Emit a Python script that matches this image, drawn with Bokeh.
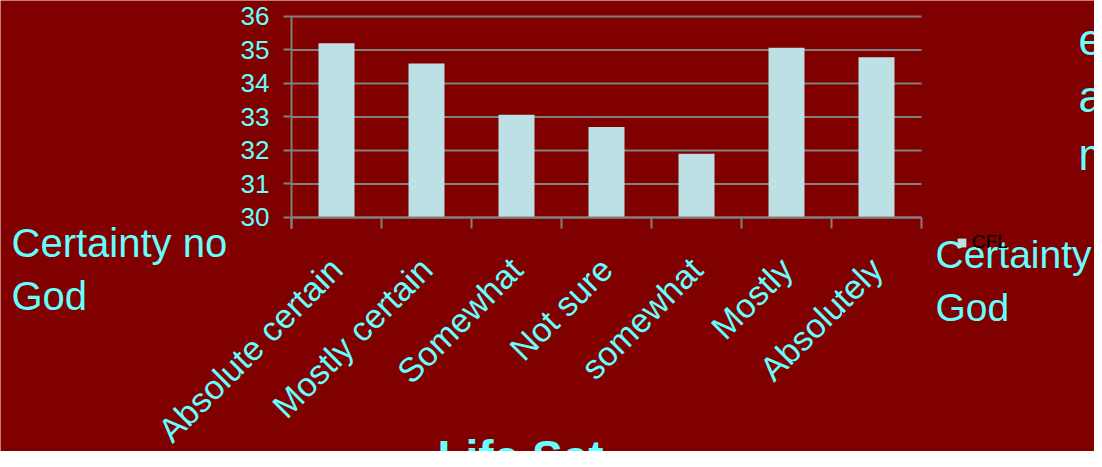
from math import pi
from bokeh.plotting import figure
from bokeh.models import Range1d, FixedTicker, Label, Legend, LegendItem
from bokeh.embed import file_html
from bokeh.resources import INLINE

# ---- data ----
categories = ["Absolute certain", "Mostly certain", "Somewhat", "Not sure",
              "somewhat", "Mostly", "Absolutely"]
cfl_values = [35.2, 34.6, 33.07, 32.7, 31.9, 35.07, 34.78]
y_ticks = [30, 31, 32, 33, 34, 35, 36]
series_name = "CFL"
left_note = "Certainty no\nGod"
right_note = "Certainty\nGod"
corner_note = "e\na\nm"
bottom_title = "Life Sat"

BG = "#800000"
CYAN = "#66FFFF"
BAR = "#BCE0E4"
GRAY = "#808080"
FONT = "Liberation Sans"

n = len(categories)
centers = [i + 0.5 for i in range(n)]
bounds = list(range(n + 1))
y_low = 29.672          # lower end of the value axis (tick marks reach here)

# whole canvas is the frame; axes are pinned inside it with fixed_location
p = figure(width=1094, height=451, output_backend="svg", toolbar_location=None,
           x_range=Range1d(-3.2333, 8.9222), y_range=Range1d(23.0149, 36.4776),
           min_border=0, min_border_left=0, min_border_right=0,
           min_border_top=0, min_border_bottom=0)
p.background_fill_color = BG
p.border_fill_color = BG
p.outline_line_color = None
p.xgrid.visible = False
p.ygrid.visible = False

# y axis
yax = p.yaxis[0]
yax.fixed_location = 0
yax.bounds = (y_low, y_ticks[-1])
yax.ticker = FixedTicker(ticks=y_ticks)
yax.axis_line_color = GRAY
yax.axis_line_width = 2
yax.major_tick_line_color = GRAY
yax.major_tick_line_width = 2
yax.major_tick_out = 8
yax.major_tick_in = 0
yax.minor_tick_line_color = None
yax.major_label_text_color = CYAN
yax.major_label_text_font = FONT
yax.major_label_text_font_size = "26px"
yax.major_label_standoff = 14

# x axis: line at 30, category labels at the bar centres
xax = p.xaxis[0]
xax.fixed_location = y_ticks[0]
xax.bounds = (0, n)
xax.ticker = FixedTicker(ticks=centers)
xax.major_label_overrides = {c: lab for c, lab in zip(centers, categories)}
xax.axis_line_color = GRAY
xax.axis_line_width = 2
xax.major_tick_line_color = None
xax.major_tick_out = 11
xax.major_tick_in = 0
xax.minor_tick_line_color = None
xax.major_label_orientation = pi / 4
xax.major_label_text_color = CYAN
xax.major_label_text_font = FONT
xax.major_label_text_font_size = "34px"
xax.major_label_standoff = 35

# horizontal grid lines
p.segment(x0=[0] * len(y_ticks), y0=y_ticks, x1=[n] * len(y_ticks), y1=y_ticks,
          line_color=GRAY, line_width=2)

# bars
bars = p.vbar(x=centers, top=cfl_values, bottom=y_ticks[0], width=0.4,
              fill_color=BAR, line_color=None)

# category boundary tick marks
p.segment(x0=bounds, y0=[y_ticks[0]] * len(bounds), x1=bounds,
          y1=[y_low] * len(bounds), line_color=GRAY, line_width=2)

legend = Legend(items=[LegendItem(label=series_name, renderers=[bars])],
                location=(956, 198), orientation="vertical",
                background_fill_alpha=0, border_line_color=None,
                padding=0, margin=0, spacing=0,
                glyph_width=11, glyph_height=11, label_standoff=5,
                label_text_color="black", label_text_font=FONT,
                label_text_font_size="19px", label_height=11)
p.add_layout(legend)

def note(text, x, y, size, lh, bold=False, align="left"):
    lab = Label(x=x, y=y, text=text,
                text_color=CYAN, text_font=FONT, text_font_size=size,
                text_align=align, text_baseline="top", text_line_height=lh,
                text_font_style="bold" if bold else "normal")
    p.add_layout(lab)

note(left_note, -3.1111, 29.910, "40px", 1.22)
note(right_note, 7.1556, 29.552, "39px", 1.25)
note(corner_note, 8.7444, 36.0596, "44px", 1.18)
note(bottom_title, 2.5444, 23.612, "46px", 1.2, bold=True, align="center")

open("out.html", "w").write(file_html(p, INLINE))
